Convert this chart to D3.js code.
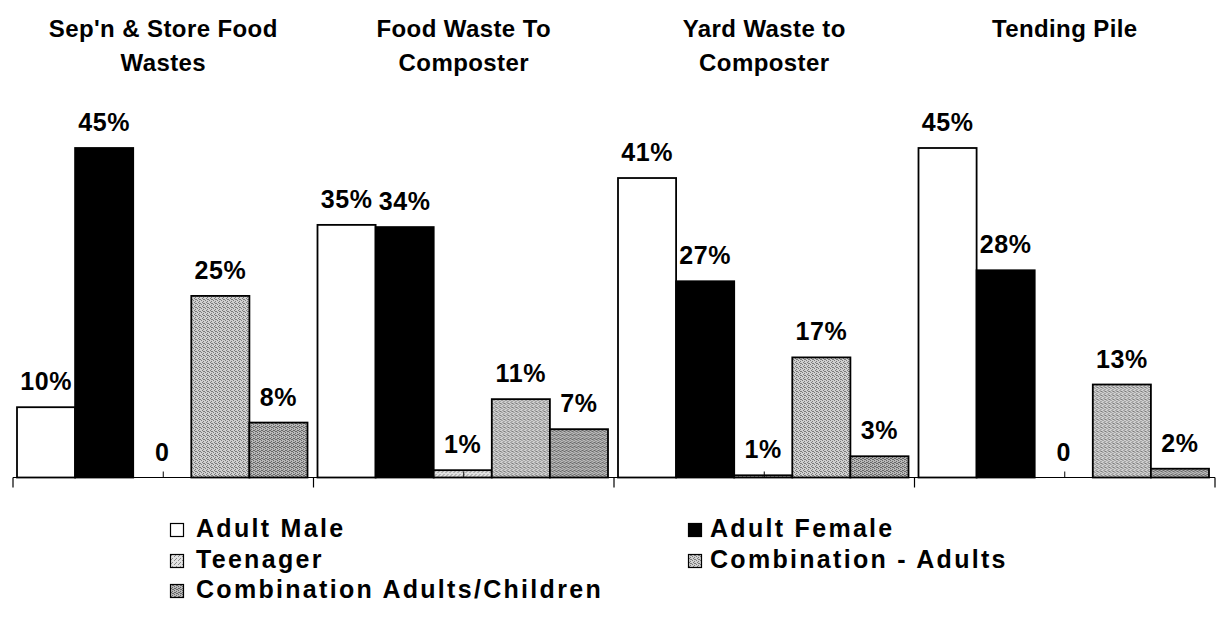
<!DOCTYPE html>
<html>
<head>
<meta charset="utf-8">
<script src="https://cdn.jsdelivr.net/npm/d3@7"></script>
<style>
  html, body { margin: 0; padding: 0; background: #fff; }
  svg { display: block; }
  text { font-family: "Liberation Sans", Arial, sans-serif; font-weight: bold; fill: #000; }
</style>
</head>
<body>
<svg id="chart" width="1225" height="617"></svg>
<script>
// ---- data ----
const categories = [
  ["Sep'n & Store Food", "Wastes"],
  ["Food Waste To", "Composter"],
  ["Yard Waste to", "Composter"],
  ["Tending Pile"]
];
const seriesNames = ["Adult Male", "Adult Female", "Teenager", "Combination - Adults", "Combination Adults/Children"];
const adultMale        = [9.6, 34.5, 40.9, 45];
const adultFemale      = [45, 34.2, 26.8, 28.3];
const teenager         = [0, 1.0, 0.3, 0];
const comboAdults      = [24.8, 10.7, 16.4, 12.7];
const comboAdultsKids  = [7.5, 6.6, 2.9, 1.2];
const labelsMale       = ["10%", "35%", "41%", "45%"];
const labelsFemale     = ["45%", "34%", "27%", "28%"];
const labelsTeen       = ["0", "1%", "1%", "0"];
const labelsCombo      = ["25%", "11%", "17%", "13%"];
const labelsComboKids  = ["8%", "7%", "3%", "2%"];

const seriesValues = [adultMale, adultFemale, teenager, comboAdults, comboAdultsKids];
const seriesLabels = [labelsMale, labelsFemale, labelsTeen, labelsCombo, labelsComboKids];
const fills = ["#ffffff", "#000000", "url(#pTeen)", "url(#pCombo)", "url(#pComboKids)"];

const svg = d3.select("#chart");

// stipple-like patterns
const defs = svg.append("defs");
function pattern(id, bg, dots, dotColor) {
  const p = defs.append("pattern").attr("id", id).attr("patternUnits", "userSpaceOnUse")
    .attr("width", 4).attr("height", 4);
  p.append("rect").attr("width", 4).attr("height", 4).attr("fill", bg);
  dots.forEach(d => p.append("rect").attr("x", d[0]).attr("y", d[1]).attr("width", 1).attr("height", 1).attr("fill", dotColor));
}
pattern("pTeen", "#e2e2e2", [[0,0],[2,2],[1,3]], "#8c8c8c");
pattern("pCombo", "#d0d0d0", [[0,0],[2,1],[1,2],[3,3],[2,3]], "#7a7a7a");
pattern("pComboKids", "#b8b8b8", [[0,0],[2,1],[1,2],[3,3],[2,3],[0,2]], "#686868");

const x0 = d3.scaleBand().domain(d3.range(categories.length)).range([13, 1215]).padding(0);
const x1 = d3.scaleBand().domain(d3.range(seriesNames.length)).range([4, x0.bandwidth() - 6]).padding(0);
const y = d3.scaleLinear().domain([0, 45]).range([477.5, 148]);

// bars
const groups = svg.append("g").selectAll("g").data(categories).join("g")
  .attr("transform", (d, i) => `translate(${x0(i)},0)`);

groups.each(function(cat, gi) {
  const g = d3.select(this);
  seriesNames.forEach((s, si) => {
    const v = seriesValues[si][gi];
    if (v > 0) {
      g.append("rect")
        .attr("x", x1(si)).attr("width", x1.bandwidth())
        .attr("y", y(v)).attr("height", y(0) - y(v))
        .attr("fill", fills[si]).attr("stroke", "#000").attr("stroke-width", 1.8);
    }
    g.append("text")
      .attr("x", x1(si) + x1.bandwidth() / 2)
      .attr("y", y(v) - 17)
      .attr("text-anchor", "middle")
      .attr("font-size", 25)
      .attr("letter-spacing", 0.6)
      .text(seriesLabels[si][gi]);
  });
  // title
  const t = g.append("text").attr("text-anchor", "middle").attr("font-size", 24).attr("letter-spacing", 0.4);
  cat.forEach((line, li) => {
    t.append("tspan").attr("x", x0.bandwidth() / 2).attr("y", 37 + li * 34).text(line);
  });
});

// axis
const axis = svg.append("g");
axis.append("line").attr("x1", x0.range()[0]).attr("x2", x0.range()[1])
  .attr("y1", y(0)).attr("y2", y(0)).attr("stroke", "#000").attr("stroke-width", 1.2);
const bounds = d3.range(categories.length + 1).map(i => i < categories.length ? x0(i) : x0.range()[1]);
axis.selectAll(".tk").data(bounds).join("line")
  .attr("x1", d => d).attr("x2", d => d).attr("y1", y(0)).attr("y2", y(0) + 10)
  .attr("stroke", "#000").attr("stroke-width", 1.2);
axis.selectAll(".ct").data(d3.range(categories.length)).join("line")
  .attr("x1", d => x0(d) + x0.bandwidth() / 2).attr("x2", d => x0(d) + x0.bandwidth() / 2)
  .attr("y1", y(0) - 6).attr("y2", y(0))
  .attr("stroke", "#000").attr("stroke-width", 1);

// legend
const legendPos = [[170, 537], [688, 537], [170, 568], [688, 568], [170, 598]];
const leg = svg.append("g").selectAll("g").data(seriesNames).join("g")
  .attr("transform", (d, i) => `translate(${legendPos[i][0]},${legendPos[i][1]})`);
leg.append("rect").attr("x", 0.5).attr("y", -13.5).attr("width", 13).attr("height", 13)
  .attr("fill", (d, i) => fills[i]).attr("stroke", "#000").attr("stroke-width", 1.2);
leg.append("text").attr("x", (d, i) => i % 2 ? 22 : 26).attr("y", 0).attr("font-size", 25).attr("letter-spacing", 2.3).text(d => d);
</script>
</body>
</html>
